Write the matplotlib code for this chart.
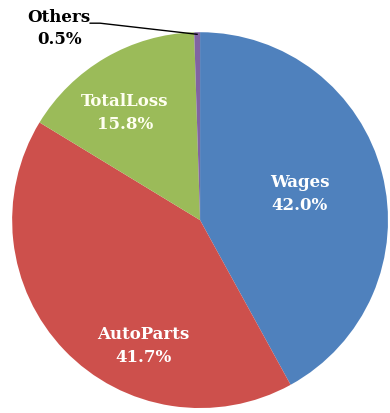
import matplotlib
matplotlib.use('Agg')
import matplotlib.pyplot as plt

# data
labels = ['Wages', 'AutoParts', 'TotalLoss', 'Others']
shares = [42.0, 41.7, 15.8, 0.5]
colors = ['#4F81BD', '#CD504C', '#9BBB59', '#8064A2']

# label positions (pie radius = 1)
label_pos = [(0.53, 0.14), (-0.30, -0.67), (-0.40, 0.57), (-0.75, 1.02)]
label_colors = ['white', 'white', '#FFFFF0', 'black']

fig = plt.figure(figsize=(3.9, 4.13), dpi=100)
ax = fig.add_axes([0.031, 0.012, 0.964, 0.910])

ax.pie(shares, colors=colors, startangle=90, counterclock=False,
       radius=1.0, wedgeprops={'linewidth': 0})

for name, val, (x, y), c in zip(labels, shares, label_pos, label_colors):
    ax.text(x, y, f'{name}\n{val:.1f}%', ha='center', va='center',
            color=c, fontsize=12, fontweight='bold', family='DejaVu Serif',
            linespacing=1.45)

# leader line for the tiny slice
ax.plot([-0.585, -0.532, -0.016], [1.048, 1.048, 0.989],
        color='black', linewidth=1, clip_on=False)

ax.set_xlim(-1, 1)
ax.set_ylim(-1, 1)
ax.set_aspect('equal')
ax.axis('off')

fig.savefig('out.png', dpi=100)
